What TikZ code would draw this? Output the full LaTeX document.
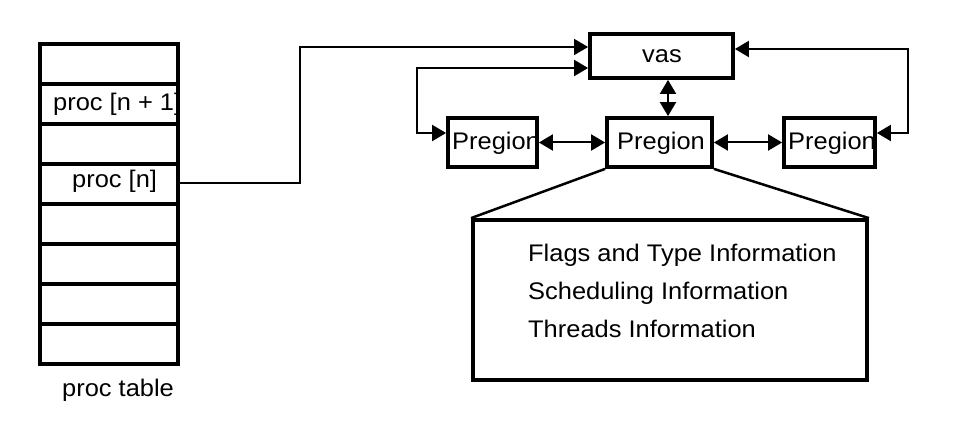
\documentclass[tikz,border=0pt]{standalone}
\usepackage{fontspec}
\setmainfont[FakeStretch=1.06]{Liberation Sans}
\usetikzlibrary{arrows.meta}
\begin{document}
\begin{tikzpicture}[x=1pt,y=-1pt,
  lbl/.style={inner sep=0pt,font=\fontsize{24}{28}\selectfont},
  cell/.style={draw,line width=3.8pt,minimum width=138pt,minimum height=40pt,inner sep=0pt},
  tbox/.style={draw,line width=3.8pt,inner sep=0pt},
  conn/.style={line width=2pt},
  thin/.style={line width=1.4pt},
  >={Triangle[length=14pt,width=16pt]}
]
\useasboundingbox (0,0) rectangle (964,435);
% text first (boxes drawn over them)
\node[lbl,anchor=base west] (tn1) at (53,111) {proc [n + 1]};
\node[lbl,anchor=base west] (tn) at (72,188) {proc [n]};
\node[lbl,anchor=base west] (ttab) at (62,397) {proc table};
\node[lbl,anchor=base] (tvas) at (662,63) {vas};
\node[lbl,anchor=base west] (tpl) at (452,150) {Pregion};
\node[lbl,anchor=base west] (tpc) at (617,150) {Pregion};
\node[lbl,anchor=base west] (tpr) at (788,150) {Pregion};
\node[lbl,anchor=base west] (i1) at (528,262) {Flags and Type Information};
\node[lbl,anchor=base west] (i2) at (528,300) {Scheduling Information};
\node[lbl,anchor=base west] (i3) at (528,338) {Threads Information};
% proc table cells
\foreach \i/\t in {0/44,1/84,2/124,3/164,4/204,5/244,6/284,7/324}{
  \node[cell] (c\i) at (109,\t+20) {};
}
% boxes
\node[tbox,minimum width=143pt,minimum height=44pt] (vas) at (661.5,56) {};
\node[tbox,minimum width=89pt,minimum height=49pt] (pl) at (492.5,142.5) {};
\node[tbox,minimum width=105pt,minimum height=49pt] (pc) at (659.5,142.5) {};
\node[tbox,minimum width=91pt,minimum height=49pt] (pr) at (829.5,142.5) {};
\node[tbox,minimum width=394pt,minimum height=160pt] (info) at (670,300) {};
% connectors
\coordinate (k1) at (300,183);
\coordinate (k2) at (300,47);
\draw[thin,->] (c3.east |- k1) -- (k1) -- (k2) -- (k2 -| vas.west);
\coordinate (l1) at (417,68);
\coordinate (l2) at (417,133);
\draw[conn,<->] (l1 -| vas.west) -- (l1) -- (l2) -- (l2 -| pl.west);
\coordinate (r1) at (908,49);
\coordinate (r2) at (908,133);
\draw[conn,<->] (r1 -| vas.east) -- (r1) -- (r2) -- (r2 -| pr.east);
\draw[conn,<->] (pl.east) -- (pc.west);
\draw[conn,<->] (pc.east) -- (pr.west);
\coordinate (v1) at (668,0);
\draw[conn,<->] (v1 |- vas.south) -- (v1 |- pc.north);
\draw[line width=2.5pt] (pc.south west) -- (info.north west);
\draw[line width=2.5pt] (pc.south east) -- (info.north east);
\end{tikzpicture}
\end{document}
